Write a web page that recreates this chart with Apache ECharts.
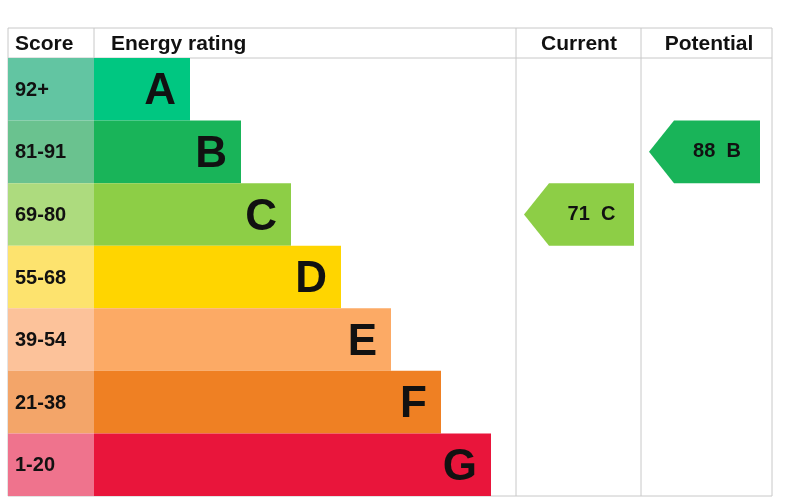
<!DOCTYPE html>
<html><head><meta charset="utf-8">
<script src="https://cdn.jsdelivr.net/npm/echarts@6/dist/echarts.min.js"></script>
<style>html,body{margin:0;background:#fff}#c{width:811px;height:503px}</style>
</head><body><div id="c"></div>
<script>
const letters=['A','B','C','D','E','F','G'];
const scores=['92+','81-91','69-80','55-68','39-54','21-38','1-20'];
const barEnds=[182,233,283,333,383,433,483];
const colors=['#00c781','#19b459','#8dce46','#ffd500','#fcaa65','#ef8023','#e9153b'];
const lightColors=['#62c5a2','#6ac28f','#addb7e','#fde36e','#fcc29a','#f3a569','#ef738d'];
const currentRating={score:71,letter:'C'};
const potentialRating={score:88,letter:'B'};
const cols={scoreEnd:86,ratingEnd:508,currentEnd:633,end:764};
const chart=echarts.init(document.getElementById('c'));
const F='Arial, "Liberation Sans", sans-serif';
function row(api,i){const p=api.coord([0,i]);const h=api.size([0,1])[1];return {y:p[1]-h/2,h};}
function arrow(api,rowIdx,x0,x1,txt,col){
 const r=row(api,rowIdx);const a=api.coord([x0,rowIdx])[0],b=api.coord([x1,rowIdx])[0];const t=25;
 return {type:'group',children:[
  {type:'polygon',shape:{points:[[a,r.y+r.h/2],[a+t,r.y],[b,r.y],[b,r.y+r.h],[a+t,r.y+r.h]]},style:{fill:col}},
  {type:'text',style:{text:txt,x:(a+t+b)/2,y:r.y+r.h/2,align:'center',verticalAlign:'middle',font:'bold 20px '+F,fill:'#111'}}]};
}
function letterIdx(l){return letters.indexOf(l);}
chart.setOption({
 animation:false,
 grid:{left:8,right:39,top:58,bottom:7},
 xAxis:{type:'value',min:0,max:cols.end,show:false},
 yAxis:{type:'category',data:letters,inverse:true,show:false},
 series:[{type:'custom',data:letters.map((l,i)=>[i]),renderItem:(params,api)=>{
  const i=params.dataIndex;const r=row(api,i);
  const x0=api.coord([0,i])[0],xs=api.coord([cols.scoreEnd,i])[0],xe=api.coord([barEnds[i],i])[0];
  const ch=[
   {type:'rect',shape:{x:x0,y:r.y,width:xs-x0,height:r.h},style:{fill:lightColors[i]}},
   {type:'rect',shape:{x:xs,y:r.y,width:xe-xs,height:r.h},style:{fill:colors[i]}},
   {type:'text',style:{text:scores[i],x:x0+7,y:r.y+r.h/2+1,verticalAlign:'middle',font:'bold 20px '+F,fill:'#111'}},
   {type:'text',style:{text:letters[i],x:xe-14,y:r.y+r.h/2+3,align:'right',verticalAlign:'middle',font:'bold 44px '+F,fill:'#111'}}
  ];
  if(i===letterIdx(currentRating.letter)) ch.push(arrow(api,i,516,626,currentRating.score+'  '+currentRating.letter,colors[i]));
  if(i===letterIdx(potentialRating.letter)) ch.push(arrow(api,i,641,752,potentialRating.score+'  '+potentialRating.letter,colors[i]));
  return {type:'group',children:ch};
 }}],
 graphic:[
  {type:'rect',shape:{x:8,y:28,width:764,height:468},style:{fill:'none',stroke:'#c8c8c8',lineWidth:1}},
  {type:'line',shape:{x1:8,y1:58,x2:772,y2:58},style:{stroke:'#c8c8c8'}},
  {type:'line',shape:{x1:94,y1:28,x2:94,y2:58},style:{stroke:'#c8c8c8'}},
  {type:'line',shape:{x1:516,y1:28,x2:516,y2:496},style:{stroke:'#c8c8c8'}},
  {type:'line',shape:{x1:641,y1:28,x2:641,y2:496},style:{stroke:'#c8c8c8'}},
  {type:'text',style:{text:'Score',x:15,y:44,verticalAlign:'middle',font:'bold 21px '+F,fill:'#111'}},
  {type:'text',style:{text:'Energy rating',x:111,y:44,verticalAlign:'middle',font:'bold 21px '+F,fill:'#111'}},
  {type:'text',style:{text:'Current',x:579,y:44,align:'center',verticalAlign:'middle',font:'bold 21px '+F,fill:'#111'}},
  {type:'text',style:{text:'Potential',x:709,y:44,align:'center',verticalAlign:'middle',font:'bold 21px '+F,fill:'#111'}}
 ]
});
</script></body></html>
